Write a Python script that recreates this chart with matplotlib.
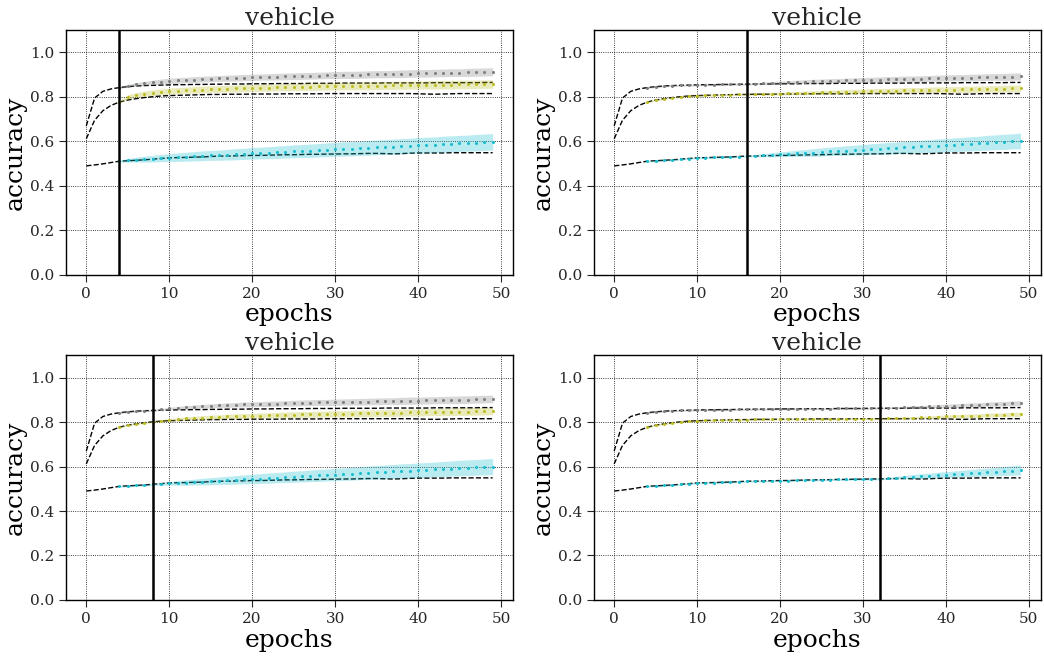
import matplotlib
matplotlib.use("Agg")
import matplotlib.pyplot as plt
import numpy as np

# ground truth accuracy per epoch (0..49)
truth_top = [0.670, 0.795, 0.825, 0.836, 0.842, 0.846, 0.849, 0.851, 0.852, 0.853,
             0.854, 0.855, 0.855, 0.856, 0.856, 0.857, 0.857, 0.858, 0.858, 0.858,
             0.859, 0.859, 0.859, 0.860, 0.860, 0.860, 0.860, 0.861, 0.861, 0.861,
             0.861, 0.862, 0.862, 0.862, 0.862, 0.862, 0.863, 0.863, 0.863, 0.863,
             0.863, 0.863, 0.864, 0.864, 0.864, 0.864, 0.864, 0.864, 0.865, 0.865]
truth_mid = [0.612, 0.695, 0.738, 0.762, 0.777, 0.786, 0.792, 0.797, 0.801, 0.804,
             0.806, 0.807, 0.808, 0.809, 0.810, 0.811, 0.811, 0.812, 0.812, 0.812,
             0.813, 0.813, 0.813, 0.813, 0.814, 0.814, 0.814, 0.814, 0.814, 0.815,
             0.815, 0.815, 0.815, 0.815, 0.815, 0.815, 0.815, 0.815, 0.815, 0.815,
             0.814, 0.813, 0.812, 0.813, 0.814, 0.815, 0.815, 0.815, 0.815, 0.815]
truth_bot = [0.490, 0.494, 0.499, 0.505, 0.511, 0.513, 0.515, 0.517, 0.520, 0.523,
             0.526, 0.527, 0.528, 0.529, 0.530, 0.532, 0.534, 0.534, 0.535, 0.536,
             0.537, 0.537, 0.538, 0.539, 0.540, 0.540, 0.541, 0.542, 0.542, 0.543,
             0.543, 0.544, 0.544, 0.545, 0.546, 0.546, 0.545, 0.544, 0.545, 0.547,
             0.548, 0.548, 0.548, 0.548, 0.549, 0.549, 0.549, 0.549, 0.549, 0.549]

pred_start = 4           # first epoch with a prediction
pre_std = 0.004          # band width while prediction follows the observed curve
cutoffs = [4, 16, 8, 32]  # vertical line per panel

# extrapolated predictions after the cutoff (epochs cut+1 .. 49)
p1_gray = [0.850, 0.856, 0.861, 0.865, 0.869, 0.872, 0.874, 0.876, 0.878, 0.880,
           0.881, 0.883, 0.884, 0.885, 0.887, 0.888, 0.889, 0.890, 0.891, 0.892,
           0.893, 0.894, 0.895, 0.896, 0.897, 0.898, 0.899, 0.899, 0.900, 0.901,
           0.902, 0.902, 0.903, 0.904, 0.905, 0.906, 0.906, 0.907, 0.908, 0.909,
           0.909, 0.910, 0.911, 0.912, 0.913]
p1_olive = [0.800, 0.808, 0.814, 0.819, 0.823, 0.826, 0.828, 0.830, 0.832, 0.833,
            0.835, 0.836, 0.837, 0.838, 0.839, 0.840, 0.841, 0.842, 0.843, 0.844,
            0.845, 0.845, 0.846, 0.847, 0.847, 0.848, 0.849, 0.849, 0.850, 0.850,
            0.851, 0.851, 0.852, 0.852, 0.853, 0.853, 0.854, 0.854, 0.855, 0.855,
            0.856, 0.856, 0.857, 0.857, 0.858]
p1_cyan = [0.515, 0.518, 0.520, 0.522, 0.525, 0.527, 0.529, 0.531, 0.533, 0.535,
           0.537, 0.538, 0.540, 0.542, 0.544, 0.546, 0.548, 0.549, 0.551, 0.553,
           0.555, 0.557, 0.558, 0.560, 0.562, 0.564, 0.566, 0.567, 0.569, 0.571,
           0.573, 0.575, 0.576, 0.578, 0.580, 0.582, 0.584, 0.585, 0.587, 0.589,
           0.591, 0.592, 0.594, 0.596, 0.598]
s1_gray = [0.006, 0.008, 0.009, 0.010, 0.011, 0.012, 0.012, 0.012, 0.013, 0.013,
           0.013, 0.013, 0.014, 0.014, 0.014, 0.014, 0.014, 0.014, 0.015, 0.015,
           0.015, 0.015, 0.015, 0.015, 0.015, 0.016, 0.016, 0.016, 0.016, 0.016,
           0.016, 0.016, 0.016, 0.017, 0.017, 0.017, 0.017, 0.017, 0.017, 0.017,
           0.017, 0.018, 0.018, 0.018, 0.018]
s1_olive = [0.010, 0.011, 0.012, 0.013, 0.013, 0.014, 0.014, 0.014, 0.015, 0.015,
            0.015, 0.015, 0.015, 0.016, 0.016, 0.016, 0.016, 0.016, 0.016, 0.016,
            0.017, 0.017, 0.017, 0.017, 0.017, 0.017, 0.017, 0.017, 0.018, 0.018,
            0.018, 0.018, 0.018, 0.018, 0.018, 0.018, 0.018, 0.019, 0.019, 0.019,
            0.019, 0.019, 0.019, 0.019, 0.019]
s1_cyan = [0.008, 0.011, 0.013, 0.015, 0.016, 0.018, 0.019, 0.020, 0.021, 0.022,
           0.022, 0.023, 0.024, 0.025, 0.025, 0.026, 0.026, 0.027, 0.028, 0.028,
           0.029, 0.029, 0.030, 0.030, 0.031, 0.031, 0.032, 0.032, 0.032, 0.033,
           0.033, 0.033, 0.034, 0.034, 0.034, 0.035, 0.035, 0.035, 0.036, 0.036,
           0.036, 0.036, 0.037, 0.037, 0.037]

p2_gray = [0.859, 0.861, 0.863, 0.864, 0.866, 0.867, 0.869, 0.870, 0.871, 0.872,
           0.873, 0.874, 0.875, 0.876, 0.877, 0.878, 0.879, 0.880, 0.881, 0.881,
           0.882, 0.883, 0.884, 0.885, 0.886, 0.886, 0.887, 0.888, 0.889, 0.890,
           0.890, 0.891, 0.892]
p2_olive = [0.812, 0.813, 0.814, 0.815, 0.816, 0.817, 0.818, 0.819, 0.820, 0.821,
            0.822, 0.823, 0.824, 0.825, 0.826, 0.827, 0.827, 0.828, 0.829, 0.830,
            0.830, 0.831, 0.832, 0.832, 0.833, 0.834, 0.834, 0.835, 0.836, 0.836,
            0.837, 0.838, 0.838]
p2_cyan = [0.536, 0.538, 0.540, 0.542, 0.544, 0.546, 0.548, 0.550, 0.552, 0.555,
           0.557, 0.559, 0.561, 0.563, 0.565, 0.567, 0.569, 0.571, 0.573, 0.575,
           0.577, 0.579, 0.581, 0.583, 0.585, 0.587, 0.589, 0.591, 0.594, 0.596,
           0.598, 0.600, 0.602]
s2_gray = [0.004, 0.005, 0.006, 0.007, 0.007, 0.008, 0.008, 0.009, 0.009, 0.010,
           0.010, 0.010, 0.011, 0.011, 0.011, 0.012, 0.012, 0.012, 0.013, 0.013,
           0.013, 0.013, 0.014, 0.014, 0.014, 0.014, 0.015, 0.015, 0.015, 0.015,
           0.016, 0.016, 0.016]
s2_olive = [0.004, 0.005, 0.006, 0.006, 0.007, 0.007, 0.008, 0.008, 0.009, 0.009,
            0.009, 0.010, 0.010, 0.010, 0.011, 0.011, 0.011, 0.012, 0.012, 0.012,
            0.012, 0.013, 0.013, 0.013, 0.013, 0.014, 0.014, 0.014, 0.014, 0.015,
            0.015, 0.015, 0.015]
s2_cyan = [0.005, 0.007, 0.009, 0.011, 0.012, 0.014, 0.015, 0.017, 0.018, 0.019,
           0.020, 0.021, 0.022, 0.023, 0.024, 0.025, 0.026, 0.026, 0.027, 0.028,
           0.028, 0.029, 0.030, 0.030, 0.031, 0.031, 0.032, 0.032, 0.033, 0.033,
           0.034, 0.034, 0.035]

p3_gray = [0.857, 0.861, 0.864, 0.867, 0.869, 0.871, 0.873, 0.875, 0.876, 0.878,
           0.879, 0.880, 0.881, 0.882, 0.883, 0.884, 0.885, 0.886, 0.887, 0.888,
           0.888, 0.889, 0.890, 0.891, 0.891, 0.892, 0.893, 0.894, 0.894, 0.895,
           0.896, 0.896, 0.897, 0.898, 0.899, 0.899, 0.900, 0.901, 0.902, 0.903,
           0.904]
p3_olive = [0.806, 0.810, 0.813, 0.816, 0.818, 0.820, 0.822, 0.823, 0.825, 0.826,
            0.827, 0.828, 0.829, 0.830, 0.831, 0.832, 0.833, 0.834, 0.834, 0.835,
            0.836, 0.837, 0.837, 0.838, 0.839, 0.839, 0.840, 0.841, 0.841, 0.842,
            0.843, 0.843, 0.844, 0.845, 0.845, 0.846, 0.847, 0.847, 0.848, 0.849,
            0.849]
p3_cyan = [0.522, 0.524, 0.526, 0.528, 0.530, 0.532, 0.534, 0.536, 0.538, 0.540,
           0.542, 0.544, 0.546, 0.548, 0.550, 0.552, 0.554, 0.556, 0.558, 0.560,
           0.562, 0.564, 0.566, 0.568, 0.570, 0.572, 0.574, 0.576, 0.578, 0.580,
           0.581, 0.583, 0.585, 0.587, 0.589, 0.591, 0.593, 0.595, 0.596, 0.598,
           0.600]
s3_gray = [0.004, 0.005, 0.006, 0.007, 0.008, 0.008, 0.009, 0.009, 0.010, 0.010,
           0.011, 0.011, 0.011, 0.012, 0.012, 0.012, 0.013, 0.013, 0.013, 0.013,
           0.014, 0.014, 0.014, 0.014, 0.015, 0.015, 0.015, 0.015, 0.015, 0.016,
           0.016, 0.016, 0.016, 0.016, 0.016, 0.017, 0.017, 0.017, 0.017, 0.017,
           0.017]
s3_olive = [0.005, 0.006, 0.007, 0.008, 0.008, 0.009, 0.009, 0.010, 0.010, 0.011,
            0.011, 0.011, 0.012, 0.012, 0.012, 0.013, 0.013, 0.013, 0.013, 0.014,
            0.014, 0.014, 0.014, 0.015, 0.015, 0.015, 0.015, 0.015, 0.016, 0.016,
            0.016, 0.016, 0.016, 0.016, 0.017, 0.017, 0.017, 0.017, 0.017, 0.017,
            0.017]
s3_cyan = [0.006, 0.008, 0.010, 0.012, 0.013, 0.015, 0.016, 0.017, 0.018, 0.019,
           0.020, 0.021, 0.022, 0.023, 0.023, 0.024, 0.025, 0.025, 0.026, 0.027,
           0.027, 0.028, 0.028, 0.029, 0.029, 0.030, 0.030, 0.031, 0.031, 0.032,
           0.032, 0.033, 0.033, 0.033, 0.034, 0.034, 0.035, 0.035, 0.035, 0.036,
           0.036]

p4_gray = [0.864, 0.865, 0.866, 0.868, 0.869, 0.870, 0.872, 0.873, 0.874, 0.876,
           0.877, 0.878, 0.880, 0.881, 0.882, 0.884, 0.885]
p4_olive = [0.817, 0.818, 0.819, 0.820, 0.821, 0.822, 0.824, 0.825, 0.826, 0.827,
            0.828, 0.829, 0.831, 0.832, 0.833, 0.834, 0.835]
p4_cyan = [0.547, 0.550, 0.552, 0.555, 0.557, 0.559, 0.562, 0.564, 0.566, 0.568,
           0.571, 0.573, 0.575, 0.577, 0.580, 0.582, 0.584]
s4_gray = [0.003, 0.004, 0.005, 0.005, 0.006, 0.006, 0.007, 0.007, 0.008, 0.008,
           0.009, 0.009, 0.009, 0.010, 0.010, 0.011, 0.011]
s4_olive = [0.003, 0.004, 0.004, 0.005, 0.005, 0.006, 0.006, 0.007, 0.007, 0.008,
            0.008, 0.008, 0.009, 0.009, 0.009, 0.010, 0.010]
s4_cyan = [0.004, 0.006, 0.007, 0.009, 0.010, 0.011, 0.012, 0.013, 0.014, 0.015,
           0.016, 0.017, 0.018, 0.019, 0.020, 0.021, 0.022]

panels = [
    (p1_gray, p1_olive, p1_cyan, s1_gray, s1_olive, s1_cyan),
    (p2_gray, p2_olive, p2_cyan, s2_gray, s2_olive, s2_cyan),
    (p3_gray, p3_olive, p3_cyan, s3_gray, s3_olive, s3_cyan),
    (p4_gray, p4_olive, p4_cyan, s4_gray, s4_olive, s4_cyan),
]

truths = [truth_top, truth_mid, truth_bot]
colors = ["tab:gray", "tab:olive", "tab:cyan"]

plt.rcParams["font.family"] = "DejaVu Serif"
plt.rcParams["text.color"] = "#262626"
plt.rcParams["xtick.color"] = "#262626"
plt.rcParams["ytick.color"] = "#262626"

fig, axes = plt.subplots(2, 2, figsize=(10.44, 6.56), dpi=100)
fig.subplots_adjust(left=0.0632, right=0.997, top=0.954, bottom=0.0854,
                    wspace=0.181, hspace=0.329)

epochs = np.arange(len(truth_top))

for ax, cut, pan in zip(axes.flat, cutoffs, panels):
    preds = pan[:3]
    stds = pan[3:]
    for truth, pred, std, c in zip(truths, preds, stds, colors):
        truth = np.array(truth)
        mean = np.concatenate([truth[pred_start:cut + 1], pred])
        sd = np.concatenate([np.full(cut + 1 - pred_start, pre_std), std])
        xs = epochs[pred_start:]
        ax.plot(epochs, truth, '--', color='black', linewidth=1, zorder=2)
        ax.fill_between(xs, mean - sd, mean + sd, color=c, alpha=0.3,
                        linewidth=0, zorder=3)
        ax.plot(xs, mean, 'o', color=c, markersize=2.2, markeredgewidth=0,
                zorder=4)
    ax.axvline(cut, color='black', linewidth=1.8, zorder=5)
    ax.set_ylim(0, 1.1)
    ax.set_yticks([0.0, 0.2, 0.4, 0.6, 0.8, 1.0])
    ax.set_xticks([0, 10, 20, 30, 40, 50])
    ax.grid(True, color='black', linestyle=':', linewidth=0.6)
    ax.set_axisbelow(True)
    ax.tick_params(labelsize=11, length=5, direction='out')
    for s in ax.spines.values():
        s.set_color('black')
        s.set_linewidth(1)
    ax.set_title("vehicle", fontsize=18, pad=4)
    ax.set_xlabel("epochs", fontsize=18, labelpad=2)
    ax.set_ylabel("accuracy", fontsize=18, labelpad=2)

plt.savefig("out.png", dpi=100)
